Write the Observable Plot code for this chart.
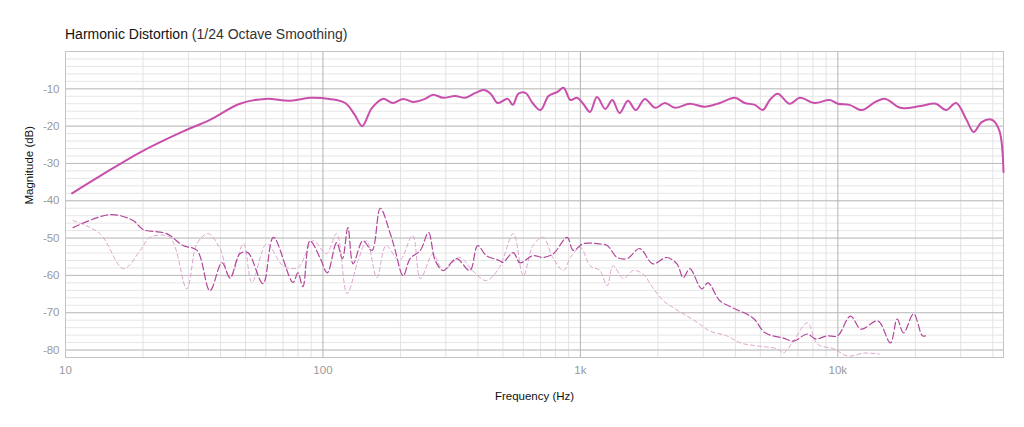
<!DOCTYPE html>
<html><head><meta charset="utf-8">
<script src="https://cdn.jsdelivr.net/npm/d3@7"></script>
<script src="https://cdn.jsdelivr.net/npm/@observablehq/plot@0.6"></script>
<style>
body{margin:0;background:#fff;font-family:"Liberation Sans",Arial,sans-serif;}
#title{height:45px;box-sizing:border-box;padding:26px 0 0 65px;font-size:14px;color:#111;}
#title span{color:#333;}
</style></head><body>
<div id="title">Harmonic Distortion <span>(1/24 Octave Smoothing)</span></div>
<div id="chart"></div>
<script>
// fundamental
const fundF = [10.6,13.6,19.5,27.8,36.4,47.6,59.6,74.7,89,106,122,133,142,155,171,187,205,224,249,268,293,326,357,391,421,448,477,522,546,575,612,652,700,752,815,860,915,970,1025,1090,1160,1250,1330,1420,1530,1640,1780,1950,2130,2330,2660,3040,3480,3980,4350,4760,5110,5440,5840,6500,7110,8130,9300,10000,11100,12400,14000,15300,17500,21000,24000,26300,28800,31600,33700,36200,39600,42300,44000]
const fundDb = [-38,-33.4,-27,-21.8,-18.3,-14,-12.7,-13.2,-12.4,-12.7,-13.8,-17,-20,-15.1,-12.7,-13.8,-12.7,-13.5,-12.7,-11.6,-12.4,-11.9,-12.4,-11.1,-10.3,-11.3,-13.8,-12.7,-14.3,-11.3,-11.1,-13.8,-15.7,-11.9,-10.8,-9.7,-13,-12.4,-14,-16.2,-12.2,-15.4,-13,-16.5,-13.2,-15.7,-12.7,-15.1,-13.8,-15.1,-14,-14.8,-13.8,-12.4,-13.8,-14.3,-15.7,-13,-11.3,-14,-12.4,-13.8,-13,-14,-14.3,-15.7,-13.5,-12.7,-15.1,-14.6,-14,-15.7,-13.8,-18.3,-21.6,-18.9,-18.3,-21,-32.3]
// 2nd harmonic
const h2F = [10.7,14.9,18.3,20,24.7,28.6,32.4,36.4,40.5,43.6,47.6,51.1,58.5,64.2,76.5,79.9,83.6,89,97.3,104,113,119,125,131,143,155,167,182,190,205,218,239,257,273,293,330,372,399,431,484,500,549,582,655,716,785,888,938,1025,1160,1270,1390,1520,1700,1910,2160,2370,2510,2660,2960,3130,3480,3910,4680,5220,6140,6720,7620,8180,9100,9970,11200,12300,14300,16000,17000,18000,19700,21300,21900]
const h2Db = [-47.2,-43.7,-45.3,-47.7,-48.8,-52,-53.3,-64.1,-56.6,-60.6,-54.2,-53.9,-62.2,-49.8,-61.9,-59.3,-63,-50.7,-55.2,-59.3,-51.2,-55.5,-47.2,-56.9,-50.7,-53.3,-42,-48.5,-52.8,-60.1,-55.5,-53.3,-48.5,-56,-58.7,-55.5,-58.7,-52,-54.7,-56,-56.5,-53.9,-56.6,-54.7,-55.2,-54.2,-49.8,-53.3,-51.5,-51.5,-52,-55.2,-55.5,-52.8,-56.9,-55.2,-56.9,-60.6,-58.2,-63.6,-62,-66.8,-68.7,-71.4,-75.4,-76.8,-77.6,-75.7,-77,-76.2,-76.2,-70.9,-74.4,-72.2,-78.1,-71.7,-75.4,-70.3,-76.2,-76.2]
// 3rd harmonic
const h3F = [10.7,13.6,16.8,19.5,21.3,25.4,29.6,32.4,35.8,39.8,43.6,49.1,53,60.5,70,80,91.6,103,113,124,137,148,162,176,198,223,239,268,293,340,381,431,484,549,600,655,716,785,860,915,1000,1090,1190,1270,1340,1470,1600,1750,1910,2100,2300,2600,2900,3180,3700,4180,4870,5820,6140,6720,7620,8330,9660,10900,12700,14500]
const h3Db = [-45.3,-48.8,-58.2,-53.3,-49.8,-49.8,-63.6,-51.5,-48.8,-52.8,-60.9,-51.5,-61.9,-51.5,-57.4,-57.9,-50.7,-54.2,-48.8,-64.9,-56,-50.7,-60.6,-52,-56,-49.3,-60.9,-54.2,-58.7,-55.2,-58.7,-61.4,-57.9,-48.8,-60.1,-52,-49.8,-55.5,-58.7,-55.2,-52.5,-57.4,-58.7,-62.8,-57.4,-60.9,-58.7,-59.6,-63.3,-66.8,-68.7,-70.9,-73,-74.9,-76.2,-78.1,-78.9,-79.7,-80.8,-77.6,-72.7,-78.4,-79.7,-81.6,-80.8,-81.1]

const xTicks = [10,100,1000,10000]
const xTickLabels = ["10","100","1k","10k"]
const yTicks = [-10,-20,-30,-40,-50,-60,-70,-80]

const xMinor = d3.range(1,5).flatMap(e => d3.range(2,10).map(m => m*10**e)).filter(v => v < 44000)
const yMinor = d3.range(-82,1,2)
const toRows = (f,db) => f.map((v,i) => ({f:v, db:db[i]}))

const chart = Plot.plot({
  width: 1024, height: 382,
  marginLeft: 65, marginRight: 21, marginTop: 6, marginBottom: 70,
  style: {fontFamily: "Liberation Sans, Arial, sans-serif", fontSize: "11.5px"},
  x: {type: "log", domain: [10,44000], label: null},
  y: {domain: [-82,0], label: null},
  marks: [
    Plot.ruleY(yMinor, {stroke: "#e6e6e6", strokeWidth: 1}),
    Plot.ruleX(xMinor, {stroke: "#e3e3e3", strokeWidth: 1}),
    Plot.ruleY(yTicks, {stroke: "#bdbdbd", strokeWidth: 1}),
    Plot.ruleX(xTicks.slice(1), {stroke: "#b5b5b5", strokeWidth: 1}),
    Plot.frame({stroke: "#c4c4c4"}),
    Plot.line(toRows(h3F,h3Db), {x: "f", y: "db", stroke: "#dba6cf", strokeWidth: 1, strokeDasharray: "4,3", curve: "catmull-rom"}),
    Plot.line(toRows(h2F,h2Db), {x: "f", y: "db", stroke: "#b2479b", strokeWidth: 1.2, strokeDasharray: "7,3", curve: "catmull-rom"}),
    Plot.line(toRows(fundF,fundDb), {x: "f", y: "db", stroke: "#c94fac", strokeWidth: 2, curve: "catmull-rom"}),
    Plot.axisX({ticks: xTicks, tickFormat: d => xTickLabels[xTicks.indexOf(d)], tickSize: 0, tickPadding: 8, fill: "#999", label: null}),
    Plot.axisY({ticks: yTicks, tickFormat: d => String(d), tickSize: 0, tickPadding: 6, fill: "#999", label: null}),
    Plot.text(["Frequency (Hz)"], {frameAnchor: "bottom", dy: 42, fill: "#111", fontSize: 11.5}),
    Plot.text(["Magnitude (dB)"], {frameAnchor: "left", dx: -36, rotate: -90, fill: "#111", fontSize: 11.5})
  ]
})
d3.select("#chart").append(() => chart)
</script></body></html>
